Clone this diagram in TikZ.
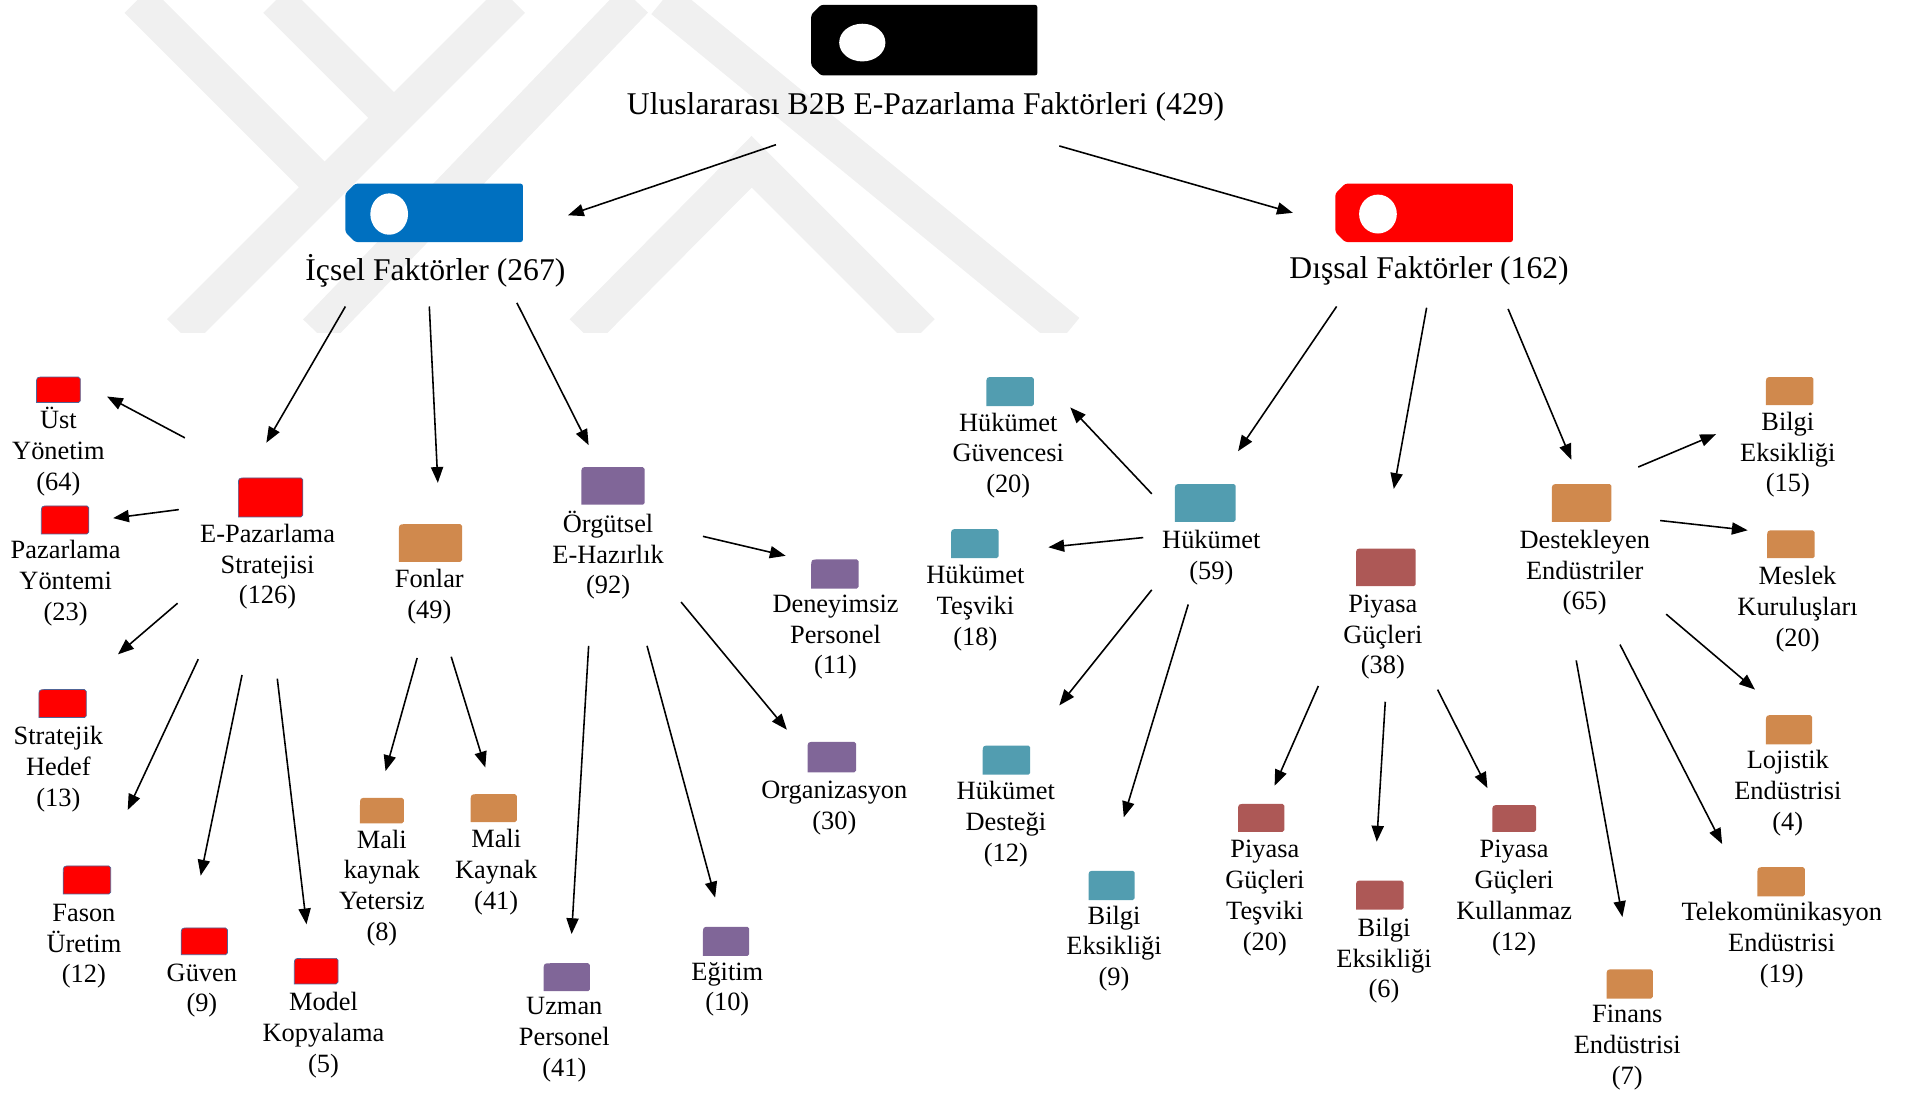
\documentclass[tikz,border=0pt]{standalone}
\usepackage{fontspec}
\setmainfont{Liberation Serif}
\usetikzlibrary{arrows.meta}
\definecolor{wm}{RGB}{240,240,240}
\definecolor{cred}{RGB}{255,0,0}
\definecolor{credb}{RGB}{80,100,150}
\definecolor{cblue}{RGB}{0,112,192}
\definecolor{corange}{RGB}{208,137,77}
\definecolor{cpurple}{RGB}{128,102,152}
\definecolor{cteal}{RGB}{82,157,176}
\definecolor{cmaroon}{RGB}{173,88,86}
\newcommand\sqbox[5]{%
  \path[#5] (#1,#4) -- (#1,#2+6) .. controls (#1,#2) .. (#1+6,#2) -- (#3-1.5,#2) -- (#3,#2+1.5) -- (#3,#4-1.5) -- (#3-1.5,#4) -- cycle;}
\newcommand\bigbox[9]{% x1 y1 x2 y2 color cx cy rx ry
  \fill[#5,rounded corners=2pt] (#1+8,#2) -- (#3,#2) -- (#3,#4) -- (#1+8,#4) -- (#1,#4-8) -- (#1,#2+8) -- cycle;
  \fill[white] (#6,#7) ellipse [x radius=#8, y radius=#9];}
\tikzset{
  lbl/.style={font=\fontsize{21.7}{25.3}\selectfont, align=center, inner sep=0pt, anchor=center},
  big/.style={font=\fontsize{26}{30}\selectfont, inner sep=0pt, anchor=center},
  arr/.style={-{Triangle[length=13pt,width=10pt]}, line width=1.3pt},
  redb/.style={fill=cred, draw=credb, line width=0.6pt},
  blueb/.style={fill=cblue},
  orb/.style={fill=corange},
  pub/.style={fill=cpurple},
  teb/.style={fill=cteal},
  mab/.style={fill=cmaroon},
  band/.style={draw=wm, line width=30pt}
}
\begin{document}
\begin{tikzpicture}[x=1pt,y=-1pt]
\useasboundingbox (0,0) rectangle (1568,900);
% watermark
\begin{scope}
\clip (0,0) rectangle (1568,273);
\draw[band] (148,273) -- (421,0);
\draw[band] (113,0) -- (267,154);
\draw[band] (227,0) -- (324,97);
\draw[band] (260,273) -- (522,0);
\draw[band] (479,273) -- (618,133) -- (758,273);
\draw[band] (545,0) -- (878,273);
\end{scope}
% big boxes
\bigbox{667}{4}{853}{62}{black}{709}{35}{19}{15.5}
\bigbox{284}{151}{430}{199}{cblue}{320}{176}{15.5}{17}
\bigbox{1098}{151}{1244}{199}{cred}{1133}{176}{15.5}{16}
\node[big] (title) at (761,88) {Uluslararası B2B E-Pazarlama Faktörleri (429)};
\node[big] (icsel) at (358,223) {İçsel Faktörler (267)};
\node[big] (dissal) at (1175,223) {Dışsal Faktörler (162)};
% small boxes
\sqbox{30}{310}{66}{331}{redb}
\sqbox{34}{416}{73}{439}{redb}
\sqbox{196}{393}{249}{425}{redb}
\sqbox{32}{567}{71}{590}{redb}
\sqbox{52}{712}{91}{735}{redb}
\sqbox{149}{763}{187}{785}{redb}
\sqbox{242}{788}{278}{809}{redb}
\sqbox{328}{431}{380}{462}{orb}
\sqbox{296}{656}{332}{677}{orb}
\sqbox{387}{653}{425}{676}{orb}
\sqbox{478}{384}{530}{415}{pub}
\sqbox{667}{460}{706}{484}{pub}
\sqbox{664}{610}{704}{635}{pub}
\sqbox{447}{792}{485}{815}{pub}
\sqbox{578}{762}{616}{786}{pub}
\sqbox{966}{398}{1016}{429}{teb}
\sqbox{811}{310}{850}{334}{teb}
\sqbox{782}{435}{821}{459}{teb}
\sqbox{808}{613}{847}{637}{teb}
\sqbox{895}{716}{933}{740}{teb}
\sqbox{1115}{451}{1164}{482}{mab}
\sqbox{1018}{661}{1056}{684}{mab}
\sqbox{1115}{724}{1154}{748}{mab}
\sqbox{1227}{662}{1263}{684}{mab}
\sqbox{1276}{398}{1325}{429}{orb}
\sqbox{1452}{310}{1491}{333}{orb}
\sqbox{1453}{436}{1492}{459}{orb}
\sqbox{1452}{588}{1490}{612}{orb}
\sqbox{1445}{713}{1484}{737}{orb}
\sqbox{1321}{797}{1359}{821}{orb}
% labels
\node[lbl] (ust) at (48,371.5) {Üst\\Yönetim\\(64)};
\node[lbl] (pyon) at (54,479.5) {Pazarlama\\Yöntemi\\(23)};
\node[lbl] (shedef) at (48,632.5) {Stratejik\\Hedef\\(13)};
\node[lbl] (fason) at (69,778) {Fason\\Üretim\\(12)};
\node[lbl] (guven) at (166,814.5) {Güven\\(9)};
\node[lbl] (model) at (266,851) {Model\\Kopyalama\\(5)};
\node[lbl] (epaz) at (220,466) {E-Pazarlama\\Stratejisi\\(126)};
\node[lbl] (fonlar) at (353,490.5) {Fonlar\\(49)};
\node[lbl] (maliy) at (314,730) {Mali\\kaynak\\Yetersiz\\(8)};
\node[lbl] (malik) at (408,717) {Mali\\Kaynak\\(41)};
\node[lbl] (orgut) at (500,456.5) {Örgütsel\\E-Hazırlık\\(92)};
\node[lbl] (deney) at (687,524) {Deneyimsiz\\Personel\\(11)};
\node[lbl] (organ) at (686,664.5) {Organizasyon\\(30)};
\node[lbl] (uzman) at (464,855) {Uzman\\Personel\\(41)};
\node[lbl] (egitim) at (598,813.5) {Eğitim\\(10)};
\node[lbl] (hukumet) at (996,458.5) {Hükümet\\(59)};
\node[lbl] (hguv) at (829,374.5) {Hükümet\\Güvencesi\\(20)};
\node[lbl] (htes) at (802,500) {Hükümet\\Teşviki\\(18)};
\node[lbl] (hdes) at (827,677.5) {Hükümet\\Desteği\\(12)};
\node[lbl] (bilgi9) at (916,780) {Bilgi\\Eksikliği\\(9)};
\node[lbl] (piyasa) at (1137,524) {Piyasa\\Güçleri\\(38)};
\node[lbl] (pgt) at (1040,738.5) {Piyasa\\Güçleri\\Teşviki\\(20)};
\node[lbl] (bilgi6) at (1138,790) {Bilgi\\Eksikliği\\(6)};
\node[lbl] (pgk) at (1245,738.5) {Piyasa\\Güçleri\\Kullanmaz\\(12)};
\node[lbl] (dest) at (1303,471) {Destekleyen\\Endüstriler\\(65)};
\node[lbl] (bilgi15) at (1470,374) {Bilgi\\Eksikliği\\(15)};
\node[lbl] (meslek) at (1478,501) {Meslek\\Kuruluşları\\(20)};
\node[lbl] (lojistik) at (1470,652) {Lojistik\\Endüstrisi\\(4)};
\node[lbl] (telekom) at (1465,777) {Telekomünikasyon\\Endüstrisi\\(19)};
\node[lbl] (finans) at (1338,861.5) {Finans\\Endüstrisi\\(7)};
% connector end points
\coordinate (t1) at (638,119); \coordinate (i0) at (467,177);
\coordinate (t2) at (871,120); \coordinate (d0) at (1063,175);
\coordinate (i1) at (284,252); \coordinate (e0) at (219,364);
\coordinate (i2) at (353,252); \coordinate (f0) at (360,397);
\coordinate (i3) at (425,249); \coordinate (o0) at (484,366);
\coordinate (d1) at (1099,252); \coordinate (h0) at (1018,371);
\coordinate (d2) at (1173,253); \coordinate (p0) at (1146,402);
\coordinate (d3) at (1240,254); \coordinate (s0) at (1292,378);
\coordinate (e1) at (152,360); \coordinate (ust0) at (88,326);
\coordinate (e2) at (147,419); \coordinate (pyon0) at (93,426);
\coordinate (e3) at (146,496); \coordinate (sh0) at (97,538);
\coordinate (e4) at (163,542); \coordinate (fa0) at (105,666);
\coordinate (e5) at (199,555); \coordinate (gu0) at (165,720);
\coordinate (e6) at (228,558); \coordinate (mo0) at (252,760);
\coordinate (f1) at (343,541); \coordinate (my0) at (317,634);
\coordinate (f2) at (371,540); \coordinate (mk0) at (399,631);
\coordinate (o1) at (578,441); \coordinate (de0) at (646,457);
\coordinate (o2) at (560,495); \coordinate (or0) at (647,600);
\coordinate (o3) at (484,531); \coordinate (uz0) at (470,768);
\coordinate (o4) at (532,531); \coordinate (eg0) at (588,738);
\coordinate (h1) at (947,406); \coordinate (hg0) at (880,335);
\coordinate (h2) at (940,442); \coordinate (ht0) at (862,450);
\coordinate (h3) at (947,485); \coordinate (hd0) at (871,580);
\coordinate (h4) at (977,497); \coordinate (b90) at (924,672);
\coordinate (p1) at (1084,564); \coordinate (pt0) at (1048,646);
\coordinate (p2) at (1139,577); \coordinate (b60) at (1132,692);
\coordinate (p3) at (1182,567); \coordinate (pk0) at (1223,648);
\coordinate (s1) at (1347,384); \coordinate (b150) at (1411,357);
\coordinate (s2) at (1365,428); \coordinate (me0) at (1437,436);
\coordinate (s3) at (1370,505); \coordinate (lo0) at (1443,567);
\coordinate (s4) at (1332,530); \coordinate (te0) at (1416,694);
\coordinate (s5) at (1296,543); \coordinate (fi0) at (1334,754);
% connectors
\foreach \a/\b in {t1/i0,t2/d0,i1/e0,i2/f0,i3/o0,d1/h0,d2/p0,d3/s0,
  e1/ust0,e2/pyon0,e3/sh0,e4/fa0,e5/gu0,e6/mo0,f1/my0,f2/mk0,
  o1/de0,o2/or0,o3/uz0,o4/eg0,h1/hg0,h2/ht0,h3/hd0,h4/b90,
  p1/pt0,p2/b60,p3/pk0,s1/b150,s2/me0,s3/lo0,s4/te0,s5/fi0}
  \draw[arr] (\a) -- (\b);
\end{tikzpicture}
\end{document}
